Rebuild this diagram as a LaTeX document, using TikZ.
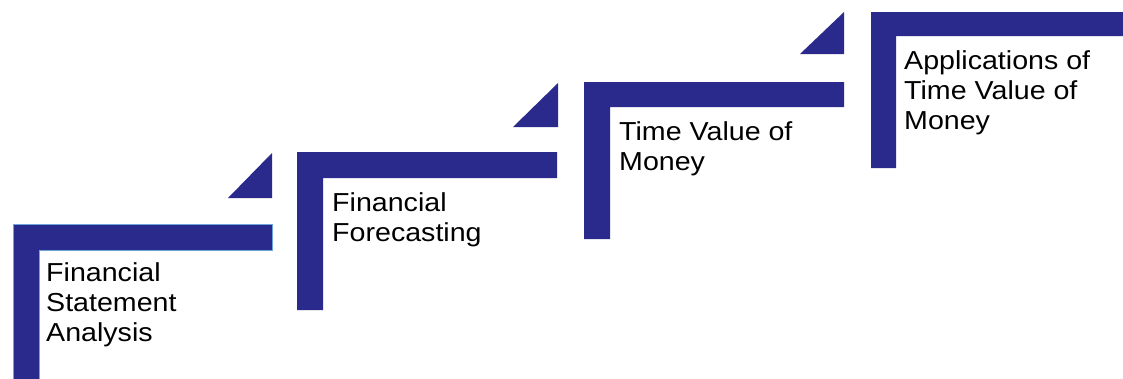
\documentclass[tikz,border=0pt]{standalone}
\usepackage{fontspec}
\setmainfont{Liberation Sans}
\newfontfamily\steplabelfont[FakeStretch=1.1]{Liberation Sans}
\definecolor{stepblue}{RGB}{42,41,140}
\definecolor{edgeblue}{RGB}{110,165,220}
\tikzset{%
  stepbar/.style   = {fill=stepblue},%
  steptri/.style   = {fill=stepblue},%
  steplabel/.style = {anchor=north west, align=left, inner sep=0pt,%
                      font=\steplabelfont\fontsize{26}{30}\selectfont}%
}

\begin{document}
\begin{tikzpicture}[x=1pt,y=-1pt]
	\useasboundingbox (0,0) rectangle (1123,378);
	% first step, with its light edge
	\begin{scope}[shift={(13,224)}]
		\filldraw [stepbar,draw=edgeblue,line width=1pt]
			(0,0) -- (259,0) -- (259,26) -- (26,26) -- (26,160) -- (0,160) -- cycle;
		\fill [steptri] (215,-26) -- (259,-26) -- (259,-71) -- cycle;
		\node [steplabel] (fsa) at (33,38.5) {Financial\\Statement\\Analysis};
	\end{scope}
	\begin{scope}[shift={(297,152)}]
		\fill [stepbar]
			(0,0) -- (260,0) -- (260,26) -- (26,26) -- (26,158) -- (0,158) -- cycle;
		\fill [steptri] (216,-25) -- (261,-25) -- (261,-69) -- cycle;
		\node [steplabel] (ff) at (35,40) {Financial\\Forecasting};
	\end{scope}
	\begin{scope}[shift={(584,82)}]
		\fill [stepbar]
			(0,0) -- (260,0) -- (260,25) -- (26,25) -- (26,157) -- (0,157) -- cycle;
		\fill [steptri] (216,-28) -- (260,-28) -- (260,-70) -- cycle;
		\node [steplabel] (tvm) at (35,39) {Time Value of\\Money};
	\end{scope}
	% last step runs off the right edge
	\begin{scope}[shift={(871,12)}]
		\fill [stepbar]
			(0,0) -- (253,0) -- (253,24) -- (25,24) -- (25,156) -- (0,156) -- cycle;
		\node [steplabel] (atvm) at (33,38) {Applications of\\Time Value of\\Money};
	\end{scope}
\end{tikzpicture}
\end{document}
